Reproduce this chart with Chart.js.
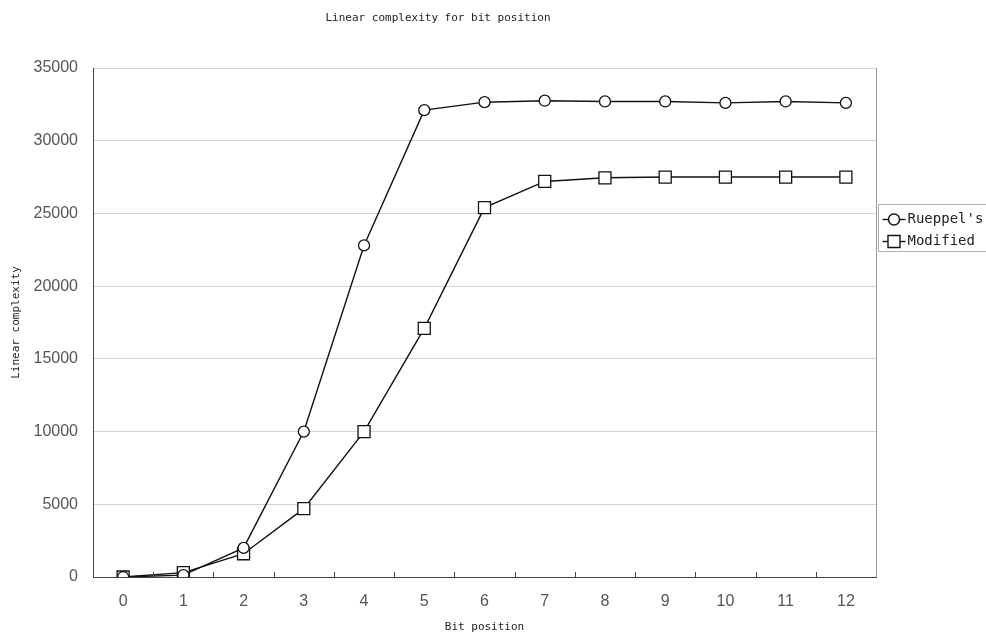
<!DOCTYPE html>
<html lang="en">
<head>
<meta charset="UTF-8">
<title>Linear complexity for bit position</title>
<script src="https://cdn.jsdelivr.net/npm/chart.js@4.4.1/dist/chart.umd.min.js"></script>
<style>
    html, body { margin: 0; padding: 0; background: #fff; }
    #wrap { width: 986px; height: 637px; }
</style>
</head>
<body>
<div id="wrap"><canvas id="lcChart"></canvas></div>
<script>
    // values
    const bitPositions = ['0', '1', '2', '3', '4', '5', '6', '7', '8', '9', '10', '11', '12'];
    const rueppelValues = [0, 130, 2000, 10000, 22800, 32100, 32650, 32750, 32700, 32700, 32600, 32700, 32600];
    const modifiedValues = [0, 300, 1600, 4700, 10000, 17100, 25400, 27200, 27450, 27500, 27500, 27500, 27500];
    const yMin = 0, yMax = 35000, yStep = 5000;

    const monoFont = '"DejaVu Sans Mono", "Liberation Mono", monospace';
    const tickFont = '"Liberation Sans", Arial, sans-serif';

    // right frame, inward x ticks and the boxed legend
    const frameAndLegend = {
        id: 'frameAndLegend',
        afterDraw(chart) {
            const { ctx, chartArea, scales } = chart;
            ctx.save();
            ctx.lineWidth = 1;
            ctx.strokeStyle = '#9a9a9a';
            ctx.beginPath();
            ctx.moveTo(Math.round(chartArea.right) + 0.5, chartArea.top);
            ctx.lineTo(Math.round(chartArea.right) + 0.5, chartArea.bottom);
            ctx.stroke();

            const x = scales.x;
            ctx.strokeStyle = '#444';
            ctx.beginPath();
            for (let i = 1; i < bitPositions.length; i++) {
                const px = Math.round((x.getPixelForValue(i - 1) + x.getPixelForValue(i)) / 2) + 0.5;
                ctx.moveTo(px, chartArea.bottom);
                ctx.lineTo(px, chartArea.bottom - 5);
            }
            ctx.stroke();

            // legend
            const lx = Math.round(chartArea.right) + 2.5, ly = 204.5;
            ctx.fillStyle = '#fff';
            ctx.fillRect(lx, ly, 130, 47);
            ctx.strokeStyle = '#b0b0b0';
            ctx.strokeRect(lx, ly, 130, 47);
            chart.data.datasets.forEach((ds, i) => {
                const cy = ly + 15 + i * 22;
                ctx.strokeStyle = ds.borderColor;
                ctx.lineWidth = ds.borderWidth;
                ctx.beginPath();
                ctx.moveTo(lx + 4, cy);
                ctx.lineTo(lx + 27, cy);
                ctx.stroke();
                ctx.fillStyle = '#fff';
                Chart.helpers.drawPoint(ctx, {
                    pointStyle: ds.pointStyle,
                    radius: ds.pointRadius,
                    rotation: 0,
                    borderWidth: ds.pointBorderWidth
                }, lx + 15.5, cy);
                ctx.fillStyle = '#222';
                ctx.font = '14px ' + monoFont;
                ctx.textBaseline = 'middle';
                ctx.textAlign = 'left';
                ctx.fillText(ds.label, lx + 29, cy);
            });
            ctx.restore();
        }
    };

    const ctx = document.getElementById('lcChart').getContext('2d');
    new Chart(ctx, {
        type: 'line',
        data: {
            labels: bitPositions,
            datasets: [{
                label: "Rueppel's",
                data: rueppelValues,
                borderColor: '#111',
                borderWidth: 1.4,
                pointStyle: 'circle',
                pointRadius: 5.5,
                pointBorderWidth: 1.3,
                pointBackgroundColor: '#fff',
                pointBorderColor: '#111',
                tension: 0,
                fill: false
            }, {
                label: 'Modified',
                data: modifiedValues,
                borderColor: '#111',
                borderWidth: 1.4,
                pointStyle: 'rect',
                pointRadius: 8.5,
                pointBorderWidth: 1.3,
                pointBackgroundColor: '#fff',
                pointBorderColor: '#111',
                tension: 0,
                fill: false
            }]
        },
        options: {
            responsive: true,
            maintainAspectRatio: false,
            animation: false,
            layout: { padding: { left: 0, right: 110, top: 0, bottom: 0 } },
            plugins: {
                legend: { display: false },
                tooltip: { enabled: false },
                title: {
                    display: true,
                    text: 'Linear complexity for bit position',
                    color: '#222',
                    font: { family: monoFont, size: 11, weight: 'normal' },
                    padding: { top: 12, bottom: 42.8 }
                }
            },
            scales: {
                x: {
                    type: 'category',
                    offset: true,
                    grid: { display: false, drawTicks: false },
                    border: { display: true, color: '#444', width: 1 },
                    ticks: { color: '#555', font: { family: tickFont, size: 16 }, padding: 15 },
                    title: {
                        display: true,
                        text: 'Bit position',
                        color: '#222',
                        font: { family: monoFont, size: 11 },
                        padding: { top: 0, bottom: 3.5 }
                    },
                    afterFit(scale) { scale.height = 60; }
                },
                y: {
                    min: yMin,
                    max: yMax,
                    ticks: {
                        stepSize: yStep,
                        color: '#555',
                        font: { family: tickFont, size: 16 },
                        padding: 15,
                        callback: v => String(v)
                    },
                    grid: { color: '#d4d4d4', drawTicks: false },
                    border: { display: true, color: '#444', width: 1 },
                    title: {
                        display: true,
                        text: 'Linear complexity',
                        color: '#222',
                        font: { family: monoFont, size: 11 },
                        padding: { top: 10, bottom: 0 }
                    },
                    afterFit(scale) { scale.width = 93; }
                }
            }
        },
        plugins: [frameAndLegend]
    });
</script>
</body>
</html>
